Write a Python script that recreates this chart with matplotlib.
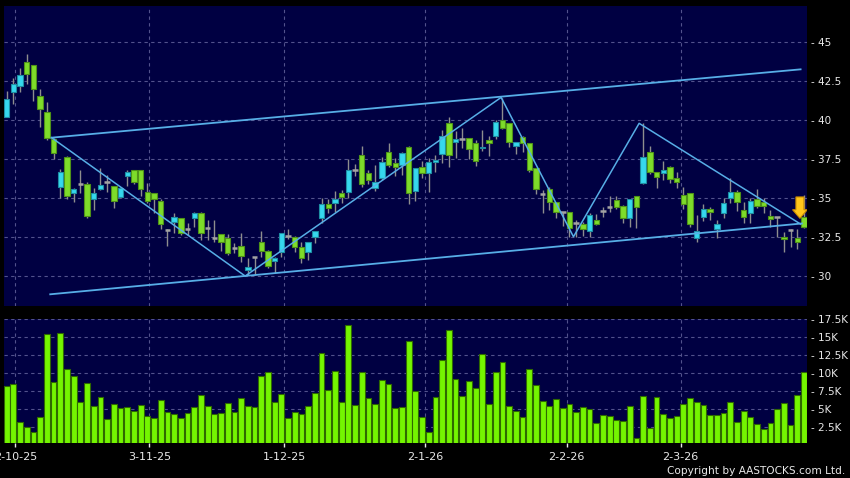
import matplotlib
matplotlib.use("Agg")
import matplotlib.pyplot as plt
from matplotlib.patches import FancyArrow
import numpy as np

# ---------------- data ----------------
opens = [40.21, 41.82, 42.20, 43.70, 43.50, 41.52, 40.51, 38.80, 35.68, 37.61,
         35.30, 35.92, 35.88, 34.91, 35.56, 36.05, 35.79, 35.09, 36.43, 36.77,
         36.77, 35.36, 35.30, 34.79, 32.97, 33.48, 33.70, 32.99, 33.70, 34.02,
         33.06, 32.46, 32.67, 32.41, 31.82, 31.94, 30.38, 31.22, 32.20, 31.62,
         30.98, 31.52, 32.56, 32.52, 31.88, 31.52, 32.48, 33.70, 34.59, 34.70,
         35.30, 35.36, 36.79, 37.76, 36.58, 35.62, 36.26, 37.97, 37.22, 37.12,
         38.29, 35.47, 37.01, 36.58, 37.29, 37.80, 39.79, 38.61, 38.78, 38.82,
         38.50, 38.18, 38.72, 39.00, 40.00, 39.79, 38.33, 38.93, 38.50, 36.90,
         35.26, 35.56, 34.72, 34.08, 34.08, 33.38, 33.31, 32.91, 33.57, 34.17,
         34.40, 34.85, 34.51, 33.70, 35.13, 35.94, 37.93, 36.65, 36.58, 36.97,
         36.30, 35.19, 35.30, 32.41, 33.80, 34.27, 32.99, 34.02, 34.98, 35.36,
         34.23, 34.02, 34.94, 34.72, 33.87, 33.76, 32.52, 32.93, 32.46, 33.78]
highs = [41.88, 42.67, 43.31, 44.23, 43.55, 41.97, 41.15, 38.85, 36.84, 37.69,
         35.62, 36.79, 36.05, 35.62, 36.90, 36.47, 35.80, 35.70, 36.79, 36.80,
         36.80, 35.94, 35.32, 34.96, 33.00, 34.02, 33.72, 33.42, 34.12, 34.12,
         33.59, 33.59, 32.69, 32.67, 32.14, 32.74, 31.13, 31.25, 32.88, 31.65,
         31.20, 32.75, 32.99, 32.55, 32.20, 32.20, 32.90, 34.98, 34.91, 35.47,
         35.51, 37.50, 37.18, 38.33, 36.79, 37.12, 37.65, 38.55, 37.54, 37.97,
         38.33, 36.92, 37.39, 37.54, 37.76, 39.36, 40.17, 39.32, 39.47, 38.85,
         38.72, 39.36, 39.00, 40.00, 41.42, 39.80, 38.60, 39.00, 38.52, 36.92,
         35.51, 35.73, 34.75, 34.10, 34.10, 33.59, 33.48, 34.06, 33.97, 34.44,
         35.13, 35.13, 34.55, 34.95, 35.15, 39.79, 38.33, 36.67, 37.39, 37.05,
         36.65, 35.73, 35.34, 33.91, 34.62, 34.44, 33.59, 34.98, 36.26, 35.51,
         34.77, 34.98, 35.58, 34.98, 34.23, 33.78, 32.84, 32.99, 32.99, 35.19]
lows = [40.18, 41.03, 41.82, 42.29, 41.24, 39.57, 38.72, 37.48, 34.98, 34.91,
        34.76, 35.34, 33.70, 34.23, 35.50, 35.41, 34.34, 35.00, 35.79, 35.88,
        35.13, 34.70, 34.02, 32.99, 31.94, 32.78, 32.63, 32.63, 33.16, 32.31,
        32.31, 32.20, 31.62, 31.35, 31.45, 30.92, 30.06, 30.06, 31.24, 30.49,
        30.17, 31.24, 32.35, 31.56, 30.85, 31.03, 32.14, 33.38, 34.02, 34.12,
        34.70, 34.98, 36.41, 35.73, 35.88, 35.47, 36.15, 36.97, 36.41, 36.47,
        34.59, 34.81, 36.30, 35.41, 36.69, 37.22, 37.01, 37.54, 38.18, 37.48,
        37.05, 38.03, 37.69, 38.78, 39.40, 38.29, 37.80, 37.97, 36.65, 35.26,
        34.02, 34.23, 33.70, 33.20, 32.52, 32.52, 32.56, 32.52, 33.27, 33.80,
        34.12, 34.27, 33.42, 33.16, 33.06, 35.90, 36.52, 35.62, 36.15, 35.94,
        35.62, 34.27, 33.16, 32.20, 33.53, 33.59, 32.46, 33.74, 34.70, 34.19,
        33.42, 33.42, 34.34, 34.06, 33.16, 32.48, 31.52, 31.88, 31.71, 33.10]
closes = [41.32, 42.29, 42.86, 42.97, 41.97, 40.73, 38.87, 37.86, 36.65, 35.13,
          35.60, 35.92, 33.82, 35.30, 35.81, 36.05, 34.79, 35.62, 36.65, 36.05,
          35.60, 34.83, 34.91, 33.31, 32.97, 33.80, 32.78, 32.99, 34.02, 32.78,
          33.06, 32.46, 32.16, 31.50, 31.82, 31.30, 30.60, 31.22, 31.62, 30.64,
          31.17, 32.74, 32.56, 31.88, 31.13, 32.16, 32.88, 34.59, 34.34, 34.96,
          35.09, 36.79, 36.79, 35.88, 36.15, 36.05, 37.29, 37.09, 37.01, 37.86,
          35.34, 36.90, 36.58, 37.29, 37.44, 39.00, 37.76, 38.78, 38.78, 38.12,
          37.39, 38.29, 38.50, 39.85, 39.47, 38.57, 38.57, 38.50, 36.79, 35.58,
          35.26, 34.72, 34.08, 34.08, 33.06, 33.38, 32.99, 33.91, 33.35, 34.17,
          34.40, 34.44, 33.70, 34.91, 34.40, 37.61, 36.69, 36.32, 36.79, 36.20,
          36.05, 34.59, 33.31, 32.91, 34.27, 34.12, 33.33, 34.66, 35.36, 34.76,
          33.76, 34.81, 34.49, 34.51, 33.65, 33.76, 32.35, 32.93, 32.16, 33.14]
# volume in thousands of shares
volumes_k = [8.15, 8.43, 3.10, 2.41, 1.81, 3.80, 15.37, 8.75, 15.51, 10.46,
             9.54, 5.93, 8.61, 5.42, 6.67, 3.61, 5.60, 5.14, 5.23, 4.68,
             5.51, 4.03, 3.66, 6.16, 4.54, 4.26, 3.75, 4.35, 5.28, 6.90,
             5.37, 4.26, 4.44, 5.79, 4.49, 6.44, 5.42, 5.19, 9.49, 10.14,
             5.88, 6.99, 3.70, 4.49, 4.26, 5.32, 7.18, 12.78, 7.55, 10.19,
             5.93, 16.62, 5.46, 10.05, 6.44, 5.65, 8.98, 8.47, 5.09, 5.19,
             14.35, 7.45, 3.80, 1.71, 6.67, 11.81, 15.93, 9.07, 6.76, 8.84,
             7.82, 12.64, 5.60, 10.14, 11.53, 5.37, 4.72, 3.84, 10.46, 8.24,
             6.11, 5.37, 6.30, 5.14, 5.65, 4.54, 5.19, 4.91, 3.01, 4.12,
             4.03, 3.43, 3.33, 5.32, 0.93, 6.81, 2.36, 6.57, 4.21, 3.75,
             3.94, 5.60, 6.53, 5.93, 5.51, 4.17, 4.17, 4.44, 5.93, 3.19,
             4.68, 3.84, 2.82, 2.13, 3.06, 5.00, 5.74, 2.73, 6.90, 10.09]

date_labels = ["2-10-25", "3-11-25", "1-12-25", "2-1-26", "2-2-26", "2-3-26"]
date_pos = [1.3, 21.3, 41.4, 62.5, 83.6, 100.6]
price_ticks = [30, 32.5, 35, 37.5, 40, 42.5, 45]
volume_ticks = [2.5, 5, 7.5, 10, 12.5, 15, 17.5]

upper_channel_x = [6.7, 118.5]
upper_channel_y = [38.87, 43.25]
lower_channel_x = [6.5, 118.7]
lower_channel_y = [28.83, 33.37]
zigzag_x = [6.7, 35.6, 73.8, 84.6, 94.4, 118.5]
zigzag_y = [38.87, 30.00, 41.45, 32.52, 39.79, 33.33]

# ---------------- style ----------------
BG = "#000042"
GRID = "#52528c"
UP_FILL, UP_EDGE = "#36d8ee", "#1f8fa3"
DN_FILL, DN_EDGE = "#7edc2a", "#4f9318"
DOJI = "#a3a3a3"
WICK = "#8e8e8e"
VOL_FILL, VOL_EDGE = "#74f500", "#2f6a00"
LINE = "#57aee6"
TXT = "#e8e8e8"

W, H = 850, 478
fig = plt.figure(figsize=(W / 100, H / 100), dpi=100, facecolor="black")
ax = fig.add_axes([4 / W, 1 - 306 / H, 803.3 / W, 300 / H])
axv = fig.add_axes([4 / W, 1 - 443.3 / H, 803.3 / W, 124.6 / H])

o = np.array(opens); h = np.array(highs); l = np.array(lows); c = np.array(closes)
n = len(o)
x = np.arange(n)

for a in (ax, axv):
    a.set_facecolor(BG)
    for s in a.spines.values():
        s.set_visible(False)
    a.set_xlim(-0.4, 119.5)
    a.set_axisbelow(True)

# price panel
ax.set_ylim(28.08, 47.31)
ax.vlines(x, l, h, color=WICK, lw=1.0, zorder=2)
up = c > o
dn = c < o
dj = c == o
ax.bar(x[up], (c - o)[up], bottom=o[up], width=0.8, color=UP_FILL,
       edgecolor=UP_EDGE, linewidth=0.8, zorder=3)
ax.bar(x[dn], (c - o)[dn], bottom=o[dn], width=0.8, color=DN_FILL,
       edgecolor=DN_EDGE, linewidth=0.8, zorder=3)
ax.hlines(o[dj], x[dj] - 0.42, x[dj] + 0.42, color=DOJI, lw=1.8, zorder=3)

ax.plot(upper_channel_x, upper_channel_y, color=LINE, lw=1.3, zorder=4)
ax.plot(lower_channel_x, lower_channel_y, color=LINE, lw=1.3, zorder=4)
ax.plot(zigzag_x, zigzag_y, color=LINE, lw=1.1, zorder=4)

# yellow marker arrow above last candle
ax.add_patch(FancyArrow(x[-1] - 0.6, 35.07, 0, -1.37, width=1.2, head_width=2.2,
                        head_length=0.55, length_includes_head=True,
                        facecolor="#ffc61a", edgecolor="#c98a00", lw=0.8, zorder=6))

ax.set_yticks(price_ticks)
ax.set_yticklabels(["- %g" % v for v in price_ticks])
ax.yaxis.tick_right()
ax.set_xticks(date_pos)
ax.set_xticklabels([])
ax.tick_params(axis="y", length=0, pad=3, labelsize=7.5, labelcolor=TXT)
ax.tick_params(axis="x", length=0)
ax.grid(True, color=GRID, linestyle=(0, (3, 3)), lw=0.8)

# volume panel
axv.set_ylim(0.2, 17.5)
axv.bar(x, volumes_k, width=0.86, color=VOL_FILL, edgecolor=VOL_EDGE,
        linewidth=0.8, zorder=3)
axv.set_yticks(volume_ticks)
axv.set_yticklabels(["- %gK" % v for v in volume_ticks])
axv.yaxis.tick_right()
axv.set_xticks(date_pos)
axv.set_xticklabels(date_labels)
axv.tick_params(axis="y", length=0, pad=3, labelsize=7.5, labelcolor=TXT)
axv.tick_params(axis="x", length=3, width=1, color=TXT, pad=3, labelsize=8,
                labelcolor=TXT, direction="out")
axv.grid(True, color=GRID, linestyle=(0, (3, 3)), lw=0.8)

fig.text(845 / W, 1 - 471.5 / H, "Copyright by AASTOCKS.com Ltd.", ha="right",
         va="center", fontsize=7.6, color=TXT)

fig.savefig("out.png", dpi=100, facecolor="black")
